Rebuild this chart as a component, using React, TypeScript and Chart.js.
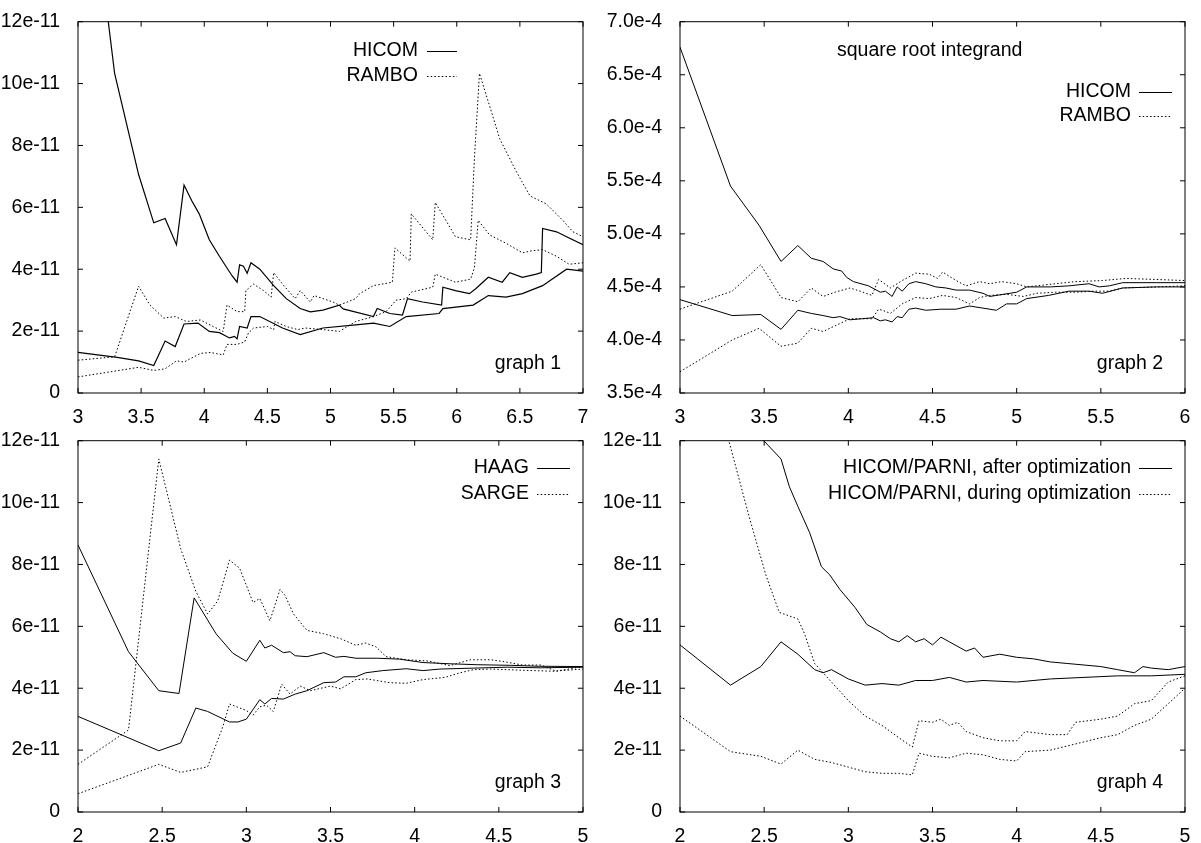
import React, { useEffect, useRef } from "react";
import { Chart, registerables } from "chart.js";

Chart.register(...registerables);

const FONT = '"Liberation Sans", Arial, Helvetica, sans-serif';
const FSIZE = 19.5;

// ---------- graph 1 (values in units of 1e-11) ----------
const g1XTicks = [3, 3.5, 4, 4.5, 5, 5.5, 6, 6.5, 7];
const g1XLabels = ["3", "3.5", "4", "4.5", "5", "5.5", "6", "6.5", "7"];
const g1YTicks = [0, 2, 4, 6, 8, 10, 12];
const g1YLabels = ["0", "2e-11", "4e-11", "6e-11", "8e-11", "10e-11", "12e-11"];

const g1HicomUpX = [3, 3.29, 3.48, 3.6, 3.69, 3.78, 3.84, 3.9, 3.96, 3.99, 4.04, 4.12, 4.22, 4.26, 4.28, 4.31, 4.34, 4.37, 4.44, 4.55, 4.65, 4.76, 4.84, 4.94, 5.07, 5.1, 5.34, 5.37, 5.47, 5.57, 5.61, 5.73, 5.88, 5.89, 5.99, 6.1, 6.15, 6.25, 6.36, 6.42, 6.52, 6.63, 6.67, 6.68, 6.79, 6.87, 7.0];
const g1HicomUpY = [20, 10.33, 7.06, 5.5, 5.64, 4.79, 6.72, 6.22, 5.79, 5.48, 4.95, 4.42, 3.79, 3.58, 4.14, 4.1, 3.87, 4.21, 4.0, 3.47, 3.05, 2.73, 2.62, 2.68, 2.84, 2.72, 2.47, 2.73, 2.57, 2.52, 3.05, 2.94, 2.84, 3.42, 3.31, 3.21, 3.37, 3.74, 3.58, 3.89, 3.74, 3.84, 3.89, 5.32, 5.21, 5.05, 4.79];
const g1HicomLoX = [3, 3.31, 3.48, 3.6, 3.69, 3.77, 3.84, 3.95, 4.04, 4.12, 4.2, 4.24, 4.26, 4.28, 4.34, 4.37, 4.44, 4.62, 4.76, 4.94, 5.2, 5.34, 5.47, 5.6, 5.86, 5.89, 6.13, 6.25, 6.39, 6.52, 6.68, 6.87, 7.0];
const g1HicomLoY = [1.31, 1.15, 1.04, 0.89, 1.68, 1.5, 2.23, 2.26, 1.99, 1.95, 1.78, 1.83, 1.75, 2.15, 2.1, 2.47, 2.47, 2.1, 1.89, 2.1, 2.2, 2.26, 2.15, 2.47, 2.57, 2.73, 2.84, 3.15, 3.1, 3.21, 3.47, 4.0, 3.94];
const g1RamboUpX = [3, 3.29, 3.48, 3.57, 3.68, 3.77, 3.86, 3.97, 4.07, 4.15, 4.18, 4.26, 4.32, 4.33, 4.39, 4.47, 4.53, 4.55, 4.62, 4.72, 4.76, 4.84, 4.87, 5.02, 5.07, 5.2, 5.23, 5.34, 5.49, 5.51, 5.63, 5.64, 5.81, 5.83, 5.99, 6.11, 6.14, 6.18, 6.26, 6.34, 6.47, 6.58, 6.71, 6.84, 6.92, 7.0];
const g1RamboUpY = [1.06, 1.17, 3.45, 2.84, 2.42, 2.47, 2.31, 2.36, 2.15, 1.99, 2.84, 2.63, 2.63, 3.31, 3.52, 3.31, 3.1, 3.89, 3.52, 3.05, 3.31, 2.94, 3.15, 2.94, 2.84, 3.05, 3.21, 3.47, 3.58, 4.69, 4.26, 5.79, 4.95, 6.16, 5.05, 4.95, 7.59, 10.33, 9.28, 8.22, 7.17, 6.37, 6.11, 5.58, 5.21, 5.05];
const g1RamboLoX = [3, 3.48, 3.6, 3.69, 3.78, 3.84, 3.97, 4.05, 4.15, 4.18, 4.26, 4.32, 4.35, 4.39, 4.5, 4.55, 4.56, 4.65, 4.74, 4.8, 4.94, 5.07, 5.2, 5.34, 5.44, 5.52, 5.6, 5.64, 5.81, 5.83, 5.99, 6.11, 6.14, 6.17, 6.26, 6.39, 6.52, 6.6, 6.68, 6.79, 6.89, 7.0];
const g1RamboLoY = [0.52, 0.83, 0.73, 0.78, 1.04, 1.0, 1.28, 1.31, 1.23, 1.57, 1.57, 1.65, 1.94, 2.1, 2.15, 2.05, 2.31, 2.15, 2.05, 2.1, 2.05, 1.99, 2.31, 2.47, 2.63, 3.0, 3.05, 3.26, 3.42, 3.84, 3.58, 3.68, 4.05, 5.58, 5.11, 4.84, 4.53, 4.6, 4.63, 4.42, 4.16, 4.21];

// ---------- graph 2 (values in units of 1e-4) ----------
const g2XTicks = [3, 3.5, 4, 4.5, 5, 5.5, 6];
const g2XLabels = ["3", "3.5", "4", "4.5", "5", "5.5", "6"];
const g2YTicks = [3.5, 4.0, 4.5, 5.0, 5.5, 6.0, 6.5, 7.0];
const g2YLabels = ["3.5e-4", "4.0e-4", "4.5e-4", "5.0e-4", "5.5e-4", "6.0e-4", "6.5e-4", "7.0e-4"];

const g2HicomUpX = [3, 3.3, 3.47, 3.6, 3.7, 3.78, 3.85, 3.91, 3.96, 3.99, 4.03, 4.12, 4.19, 4.22, 4.26, 4.29, 4.32, 4.36, 4.4, 4.46, 4.52, 4.58, 4.64, 4.72, 4.8, 4.84, 4.96, 5.0, 5.06, 5.2, 5.31, 5.43, 5.49, 5.55, 5.63, 5.83, 6.0];
const g2HicomUpY = [6.76, 5.45, 5.08, 4.74, 4.89, 4.77, 4.74, 4.67, 4.65, 4.59, 4.55, 4.51, 4.45, 4.46, 4.41, 4.5, 4.46, 4.53, 4.55, 4.53, 4.5, 4.49, 4.47, 4.47, 4.44, 4.41, 4.44, 4.45, 4.5, 4.5, 4.51, 4.53, 4.5, 4.51, 4.54, 4.54, 4.54];
const g2HicomLoX = [3, 3.31, 3.48, 3.6, 3.7, 3.78, 3.85, 3.91, 3.95, 4.01, 4.08, 4.15, 4.19, 4.22, 4.26, 4.29, 4.32, 4.36, 4.4, 4.46, 4.55, 4.64, 4.72, 4.8, 4.88, 4.94, 5.0, 5.06, 5.19, 5.31, 5.43, 5.51, 5.63, 5.83, 6.0];
const g2HicomLoY = [4.38, 4.23, 4.24, 4.1, 4.28, 4.25, 4.23, 4.21, 4.22, 4.19, 4.2, 4.21, 4.18, 4.19, 4.17, 4.22, 4.21, 4.29, 4.3, 4.28, 4.29, 4.29, 4.32, 4.3, 4.28, 4.34, 4.34, 4.39, 4.42, 4.46, 4.46, 4.44, 4.49, 4.5, 4.5];
const g2RamboUpX = [3, 3.31, 3.48, 3.6, 3.7, 3.78, 3.85, 3.92, 4.01, 4.07, 4.14, 4.18, 4.25, 4.32, 4.4, 4.48, 4.53, 4.56, 4.64, 4.7, 4.78, 4.84, 4.91, 5.0, 5.06, 5.23, 5.35, 5.51, 5.65, 5.83, 6.0];
const g2RamboUpY = [4.29, 4.46, 4.71, 4.4, 4.36, 4.49, 4.41, 4.45, 4.49, 4.46, 4.42, 4.57, 4.49, 4.56, 4.63, 4.62, 4.58, 4.64, 4.56, 4.51, 4.55, 4.53, 4.55, 4.53, 4.5, 4.53, 4.55, 4.56, 4.58, 4.57, 4.56];
const g2RamboLoX = [3, 3.31, 3.47, 3.6, 3.7, 3.78, 3.85, 3.93, 4.01, 4.14, 4.18, 4.22, 4.25, 4.32, 4.4, 4.48, 4.56, 4.64, 4.72, 4.78, 4.84, 4.94, 5.04, 5.12, 5.23, 5.35, 5.46, 5.55, 5.63, 5.83, 6.0];
const g2RamboLoY = [3.7, 4.0, 4.11, 3.94, 3.97, 4.11, 4.08, 4.14, 4.2, 4.2, 4.29, 4.27, 4.25, 4.34, 4.4, 4.39, 4.42, 4.4, 4.34, 4.4, 4.42, 4.43, 4.41, 4.44, 4.45, 4.45, 4.46, 4.46, 4.49, 4.5, 4.51];

// ---------- graph 3 (values in units of 1e-11) ----------
const g3XTicks = [2, 2.5, 3, 3.5, 4, 4.5, 5];
const g3XLabels = ["2", "2.5", "3", "3.5", "4", "4.5", "5"];
const g3YTicks = [0, 2, 4, 6, 8, 10, 12];
const g3YLabels = ["0", "2e-11", "4e-11", "6e-11", "8e-11", "10e-11", "12e-11"];

const g3HaagUpX = [2, 2.3, 2.48, 2.6, 2.69, 2.82, 2.92, 3.0, 3.08, 3.11, 3.15, 3.22, 3.26, 3.29, 3.36, 3.46, 3.53, 3.58, 3.65, 3.78, 3.91, 4.05, 4.21, 4.37, 4.57, 4.74, 5.0];
const g3HaagUpY = [8.63, 5.18, 3.92, 3.83, 6.92, 5.76, 5.13, 4.87, 5.55, 5.3, 5.39, 5.15, 5.18, 5.05, 5.02, 5.15, 5.0, 5.03, 4.97, 4.97, 4.94, 4.83, 4.79, 4.76, 4.74, 4.71, 4.7];
const g3HaagLoX = [2, 2.48, 2.61, 2.7, 2.77, 2.9, 2.95, 3.0, 3.08, 3.11, 3.15, 3.22, 3.29, 3.36, 3.46, 3.53, 3.58, 3.65, 3.71, 3.81, 3.95, 4.05, 4.15, 4.35, 4.55, 4.75, 5.0];
const g3HaagLoY = [3.09, 1.98, 2.23, 3.36, 3.25, 2.91, 2.91, 3.0, 3.63, 3.49, 3.67, 3.65, 3.81, 3.92, 4.18, 4.2, 4.37, 4.37, 4.5, 4.57, 4.63, 4.57, 4.62, 4.65, 4.68, 4.66, 4.68];
const g3SargeUpX = [2, 2.3, 2.48, 2.61, 2.7, 2.77, 2.83, 2.9, 2.96, 3.04, 3.08, 3.14, 3.2, 3.23, 3.28, 3.36, 3.46, 3.56, 3.65, 3.71, 3.77, 3.83, 3.95, 4.08, 4.21, 4.33, 4.45, 4.52, 4.64, 4.75, 4.84, 5.0];
const g3SargeUpY = [1.54, 2.65, 11.41, 8.51, 7.13, 6.4, 6.82, 8.14, 7.88, 6.77, 6.9, 6.18, 7.19, 7.0, 6.4, 5.87, 5.76, 5.6, 5.39, 5.46, 5.34, 5.02, 4.92, 4.88, 4.73, 4.92, 4.92, 4.87, 4.75, 4.75, 4.55, 4.7];
const g3SargeLoX = [2, 2.48, 2.61, 2.77, 2.86, 2.9, 3.0, 3.04, 3.08, 3.12, 3.16, 3.21, 3.26, 3.32, 3.38, 3.5, 3.56, 3.65, 3.72, 3.85, 3.95, 4.05, 4.18, 4.27, 4.35, 4.45, 4.65, 4.82, 5.0];
const g3SargeLoY = [0.59, 1.54, 1.28, 1.46, 2.75, 3.49, 3.28, 3.13, 3.4, 3.45, 3.25, 4.13, 3.81, 4.07, 3.92, 4.07, 3.98, 4.28, 4.3, 4.18, 4.16, 4.28, 4.35, 4.5, 4.6, 4.62, 4.58, 4.55, 4.62];

// ---------- graph 4 (values in units of 1e-11) ----------
const g4XTicks = [2, 2.5, 3, 3.5, 4, 4.5, 5];
const g4XLabels = ["2", "2.5", "3", "3.5", "4", "4.5", "5"];
const g4YTicks = [0, 2, 4, 6, 8, 10, 12];
const g4YLabels = ["0", "2e-11", "4e-11", "6e-11", "8e-11", "10e-11", "12e-11"];

const g4AfterUpX = [2, 2.3, 2.48, 2.6, 2.65, 2.7, 2.77, 2.84, 2.89, 2.95, 3.04, 3.11, 3.19, 3.25, 3.3, 3.35, 3.4, 3.45, 3.5, 3.55, 3.6, 3.7, 3.75, 3.8, 3.9, 4.0, 4.1, 4.2, 4.3, 4.4, 4.5, 4.6, 4.7, 4.75, 4.8, 4.9, 5.0];
const g4AfterUpY = [30, 18, 12.1, 11.41, 10.51, 9.88, 9.03, 7.93, 7.66, 7.19, 6.61, 6.06, 5.82, 5.6, 5.5, 5.7, 5.5, 5.6, 5.4, 5.65, 5.5, 5.2, 5.3, 5.0, 5.1, 5.0, 4.95, 4.85, 4.8, 4.75, 4.7, 4.6, 4.5, 4.7, 4.65, 4.6, 4.7];
const g4AfterLoX = [2, 2.3, 2.48, 2.6, 2.7, 2.8, 2.85, 2.9, 3.0, 3.1, 3.2, 3.3, 3.4, 3.5, 3.6, 3.7, 3.8, 4.0, 4.2, 4.4, 4.6, 4.8, 5.0];
const g4AfterLoY = [5.4, 4.1, 4.7, 5.5, 5.1, 4.6, 4.5, 4.6, 4.3, 4.1, 4.15, 4.1, 4.25, 4.25, 4.35, 4.2, 4.25, 4.2, 4.3, 4.35, 4.4, 4.4, 4.45];
const g4DuringUpX = [2, 2.29, 2.41, 2.51, 2.59, 2.7, 2.74, 2.8, 2.9, 3.0, 3.1, 3.2, 3.3, 3.38, 3.42, 3.5, 3.55, 3.6, 3.65, 3.7, 3.8, 3.9, 4.0, 4.05, 4.2, 4.3, 4.35, 4.5, 4.6, 4.7, 4.8, 4.9, 5.0];
const g4DuringUpY = [25, 12.0, 9.56, 7.66, 6.45, 6.24, 5.76, 4.8, 4.2, 3.6, 3.1, 2.8, 2.4, 2.1, 2.95, 2.9, 3.0, 2.8, 2.9, 2.6, 2.4, 2.3, 2.3, 2.6, 2.5, 2.5, 2.9, 3.0, 3.1, 3.5, 3.6, 4.2, 4.4];
const g4DuringLoX = [2, 2.3, 2.48, 2.6, 2.7, 2.8, 2.9, 3.0, 3.1, 3.2, 3.3, 3.38, 3.42, 3.5, 3.6, 3.7, 3.8, 3.9, 4.0, 4.05, 4.2, 4.35, 4.5, 4.6, 4.7, 4.8, 4.9, 5.0];
const g4DuringLoY = [3.1, 1.95, 1.8, 1.55, 2.0, 1.7, 1.6, 1.45, 1.3, 1.25, 1.25, 1.2, 1.9, 1.8, 1.75, 1.9, 1.85, 1.7, 1.65, 1.95, 2.0, 2.2, 2.4, 2.5, 2.8, 3.0, 3.5, 4.0];

type Curve = { xs: number[]; ys: number[]; dotted: boolean; width?: number };
type LegendCfg = {
  labels: string[];
  dotted: boolean[];
  textRight: number; // offset from chart area right
  sampleFrom: number;
  sampleTo: number;
  rowTop: number; // offset from chart area top
  rowGap: number;
};
type PanelCfg = {
  left: number;
  top: number;
  xTicks: number[];
  xLabels: string[];
  yTicks: number[];
  yLabels: string[];
  curves: Curve[];
  legend: LegendCfg;
  title?: { text: string; dx: number; dy: number };
  tag: string;
};

const DOT = [1.5, 2.2];

const panels: PanelCfg[] = [
  {
    left: 0,
    top: 0,
    xTicks: g1XTicks,
    xLabels: g1XLabels,
    yTicks: g1YTicks,
    yLabels: g1YLabels,
    curves: [
      { xs: g1HicomUpX, ys: g1HicomUpY, dotted: false, width: 1.2 },
      { xs: g1HicomLoX, ys: g1HicomLoY, dotted: false, width: 1.2 },
      { xs: g1RamboUpX, ys: g1RamboUpY, dotted: true },
      { xs: g1RamboLoX, ys: g1RamboLoY, dotted: true },
    ],
    legend: { labels: ["HICOM", "RAMBO"], dotted: [false, true], textRight: -165, sampleFrom: -156, sampleTo: -126, rowTop: 29, rowGap: 25 },
    tag: "graph 1",
  },
  {
    left: 602,
    top: 0,
    xTicks: g2XTicks,
    xLabels: g2XLabels,
    yTicks: g2YTicks,
    yLabels: g2YLabels,
    curves: [
      { xs: g2HicomUpX, ys: g2HicomUpY, dotted: false },
      { xs: g2HicomLoX, ys: g2HicomLoY, dotted: false },
      { xs: g2RamboUpX, ys: g2RamboUpY, dotted: true },
      { xs: g2RamboLoX, ys: g2RamboLoY, dotted: true },
    ],
    legend: { labels: ["HICOM", "RAMBO"], dotted: [false, true], textRight: -54, sampleFrom: -46, sampleTo: -13, rowTop: 70, rowGap: 24 },
    title: { text: "square root integrand", dx: 157, dy: 29 },
    tag: "graph 2",
  },
  {
    left: 0,
    top: 419,
    xTicks: g3XTicks,
    xLabels: g3XLabels,
    yTicks: g3YTicks,
    yLabels: g3YLabels,
    curves: [
      { xs: g3HaagUpX, ys: g3HaagUpY, dotted: false },
      { xs: g3HaagLoX, ys: g3HaagLoY, dotted: false },
      { xs: g3SargeUpX, ys: g3SargeUpY, dotted: true },
      { xs: g3SargeLoX, ys: g3SargeLoY, dotted: true },
    ],
    legend: { labels: ["HAAG", "SARGE"], dotted: [false, true], textRight: -54, sampleFrom: -46, sampleTo: -13, rowTop: 27, rowGap: 26 },
    tag: "graph 3",
  },
  {
    left: 602,
    top: 419,
    xTicks: g4XTicks,
    xLabels: g4XLabels,
    yTicks: g4YTicks,
    yLabels: g4YLabels,
    curves: [
      { xs: g4AfterUpX, ys: g4AfterUpY, dotted: false },
      { xs: g4AfterLoX, ys: g4AfterLoY, dotted: false },
      { xs: g4DuringUpX, ys: g4DuringUpY, dotted: true },
      { xs: g4DuringLoX, ys: g4DuringLoY, dotted: true },
    ],
    legend: {
      labels: ["HICOM/PARNI, after optimization", "HICOM/PARNI, during optimization"],
      dotted: [false, true],
      textRight: -54,
      sampleFrom: -46,
      sampleTo: -13,
      rowTop: 27,
      rowGap: 26,
    },
    tag: "graph 4",
  },
];

function Panel({ cfg }: { cfg: PanelCfg }) {
  const ref = useRef<HTMLCanvasElement | null>(null);
  useEffect(() => {
    const canvas = ref.current;
    if (!canvas) return;
    const frame = {
      id: "frame",
      afterDatasetsDraw(chart: any) {
        const { ctx, chartArea: a, scales } = chart;
        ctx.save();
        ctx.strokeStyle = "#000";
        ctx.lineWidth = 1;
        ctx.setLineDash([]);
        ctx.strokeRect(a.left, a.top, a.right - a.left, a.bottom - a.top);
        const tl = 5;
        ctx.beginPath();
        for (const v of cfg.xTicks) {
          const p = scales.x.getPixelForValue(v);
          ctx.moveTo(p, a.bottom);
          ctx.lineTo(p, a.bottom - tl);
          ctx.moveTo(p, a.top);
          ctx.lineTo(p, a.top + tl);
        }
        for (const v of cfg.yTicks) {
          const p = scales.y.getPixelForValue(v);
          ctx.moveTo(a.left, p);
          ctx.lineTo(a.left + tl, p);
          ctx.moveTo(a.right, p);
          ctx.lineTo(a.right - tl, p);
        }
        ctx.stroke();

        ctx.fillStyle = "#000";
        ctx.font = `${FSIZE}px ${FONT}`;
        ctx.textBaseline = "middle";
        const lg = cfg.legend;
        lg.labels.forEach((lab, i) => {
          const y = a.top + lg.rowTop + i * lg.rowGap;
          ctx.textAlign = "right";
          ctx.fillText(lab, a.right + lg.textRight, y);
          ctx.beginPath();
          ctx.setLineDash(lg.dotted[i] ? DOT : []);
          ctx.moveTo(a.right + lg.sampleFrom, Math.round(y) + 0.5);
          ctx.lineTo(a.right + lg.sampleTo, Math.round(y) + 0.5);
          ctx.stroke();
        });
        ctx.setLineDash([]);
        if (cfg.title) {
          ctx.textAlign = "left";
          ctx.fillText(cfg.title.text, a.left + cfg.title.dx, a.top + cfg.title.dy);
        }
        ctx.textAlign = "right";
        ctx.fillText(cfg.tag, a.right - 22, a.bottom - 29);
        ctx.restore();
      },
    };

    const chart = new Chart(canvas, {
      type: "line",
      data: {
        datasets: cfg.curves.map((c) => ({
          data: c.xs.map((x, i) => ({ x, y: c.ys[i] })),
          borderColor: "#000",
          borderWidth: c.width ?? 1,
          borderDash: c.dotted ? DOT : [],
          pointRadius: 0,
          tension: 0,
          fill: false,
        })),
      },
      options: {
        animation: false,
        responsive: false,
        events: [],
        layout: { padding: { top: 14, right: 17, left: 0, bottom: 0 } },
        plugins: { legend: { display: false }, tooltip: { enabled: false } },
        scales: {
          x: {
            type: "linear",
            min: cfg.xTicks[0],
            max: cfg.xTicks[cfg.xTicks.length - 1],
            grid: { display: false },
            border: { display: false },
            afterBuildTicks: (s: any) => {
              s.ticks = cfg.xTicks.map((v) => ({ value: v }));
            },
            ticks: {
              autoSkip: false,
              maxRotation: 0,
              padding: 5,
              color: "#000",
              font: { family: FONT, size: FSIZE },
              callback: (_v: any, i: number) => cfg.xLabels[i],
            },
            afterFit: (s: any) => {
              s.height = 31;
            },
          },
          y: {
            type: "linear",
            min: cfg.yTicks[0],
            max: cfg.yTicks[cfg.yTicks.length - 1],
            grid: { display: false },
            border: { display: false },
            afterBuildTicks: (s: any) => {
              s.ticks = cfg.yTicks.map((v) => ({ value: v }));
            },
            ticks: {
              autoSkip: false,
              padding: 10,
              color: "#000",
              font: { family: FONT, size: FSIZE },
              callback: (_v: any, i: number) => cfg.yLabels[i],
            },
            afterFit: (s: any) => {
              s.width = 78;
            },
          },
        },
      },
      plugins: [frame],
    } as any);
    return () => chart.destroy();
  }, [cfg]);
  return (
    <canvas
      ref={ref}
      width={600}
      height={424}
      style={{ position: "absolute", left: cfg.left, top: cfg.top, width: 600, height: 424 }}
    />
  );
}

export default function App() {
  return (
    <div style={{ position: "absolute", left: 0, top: 0, width: 1201, height: 843, overflow: "hidden", background: "#fff" }}>
      {panels.map((p, i) => (
        <Panel key={i} cfg={p} />
      ))}
    </div>
  );
}
